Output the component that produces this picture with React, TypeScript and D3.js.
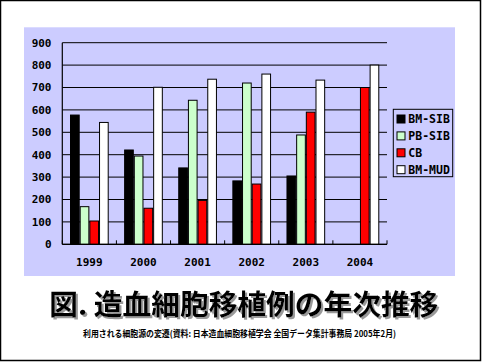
import React from "react";
import * as d3 from "d3";

const years = ["1999", "2000", "2001", "2002", "2003", "2004"];
const seriesNames = ["BM-SIB", "PB-SIB", "CB", "BM-MUD"];
const bmSib = [577, 421, 341, 283, 305, 0];
const pbSib = [168, 394, 643, 720, 488, 0];
const cb = [104, 161, 196, 269, 590, 700];
const bmMud = [544, 701, 737, 760, 733, 800];
const seriesColors = ["#000000", "#CCFFCC", "#FF0000", "#FFFFFF"];
const yTicks = [0, 100, 200, 300, 400, 500, 600, 700, 800, 900];
const titleText = "図. 造血細胞移植例の年次推移";
const subtitleText = "利用される細胞源の変遷(資料: 日本造血細胞移植学会 全国データ集計事務局 2005年2月)";

const W = 482;
const H = 362;
const plot = { left: 62.3, right: 387, top: 42.7, bottom: 244.3 };

export default function App() {
  const allSeries = [bmSib, pbSib, cb, bmMud];
  const x0 = d3
    .scaleBand<string>()
    .domain(years)
    .range([plot.left, plot.right])
    .paddingInner(0.285)
    .paddingOuter(0.1425);
  const x1 = d3
    .scaleBand<string>()
    .domain(seriesNames)
    .range([0, x0.bandwidth()])
    .padding(0);
  const y = d3.scaleLinear().domain([0, 900]).range([plot.bottom, plot.top]);
  const step = x0.step();
  const boundaries = d3.range(years.length + 1).map((i) => plot.left + i * step);
  const axisFont = "'DejaVu Sans Mono', 'Liberation Mono', monospace";

  return (
    <svg
      width={W}
      height={H}
      style={{ position: "absolute", left: 0, top: 0, background: "#fff" }}
    >
      <defs>
        <filter id="titleShadow" x="-5%" y="-20%" width="110%" height="150%">
          <feFlood floodColor="#999999" result="c" />
          <feComposite in="c" in2="SourceAlpha" operator="in" result="s" />
          <feOffset in="s" dx={1.7} dy={2} result="o" />
          <feMerge>
            <feMergeNode in="o" />
            <feMergeNode in="SourceGraphic" />
          </feMerge>
        </filter>
      </defs>
      <rect x={0.5} y={0.5} width={W - 2} height={H - 2} fill="#fff" stroke="#000" strokeWidth={1.5} />
      <rect x={24} y={27.3} width={431} height={248.7} fill="#CCCCFF" />
      {yTicks.map((t) => (
        <line key={"g" + t} x1={plot.left} x2={plot.right} y1={y(t)} y2={y(t)} stroke="#000" strokeWidth={1} />
      ))}
      {years.map((yr, i) => (
        <g key={yr} transform={`translate(${x0(yr)},0)`}>
          {seriesNames.map((s, j) => {
            const v = allSeries[j][i];
            if (!v) return null;
            return (
              <rect
                key={s}
                x={x1(s)! + 0.5}
                y={y(v)}
                width={x1.bandwidth() - 1}
                height={y(0) - y(v)}
                fill={seriesColors[j]}
                stroke="#000"
                strokeWidth={1}
              />
            );
          })}
        </g>
      ))}
      <line x1={plot.left} x2={plot.left} y1={plot.top} y2={plot.bottom} stroke="#000" strokeWidth={1.2} />
      <line x1={plot.left} x2={plot.right} y1={plot.bottom} y2={plot.bottom} stroke="#000" strokeWidth={1.2} />
      {boundaries.map((bx, i) => (
        <line key={"t" + i} x1={bx} x2={bx} y1={plot.bottom} y2={plot.bottom - 4} stroke="#000" strokeWidth={1} />
      ))}
      {yTicks.map((t) => (
        <text
          key={"yl" + t}
          x={51.5}
          y={y(t)}
          dy="0.36em"
          textAnchor="end"
          fontFamily={axisFont}
          fontWeight="bold"
          fontSize={11}
          fill="#000"
        >
          {t}
        </text>
      ))}
      {years.map((yr) => (
        <text
          key={"xl" + yr}
          x={x0(yr)! + x0.bandwidth() / 2}
          y={262.5}
          dy="0.36em"
          textAnchor="middle"
          fontFamily={axisFont}
          fontWeight="bold"
          fontSize={11}
          fill="#000"
        >
          {yr}
        </text>
      ))}
      <rect x={393.3} y={109.3} width={59.4} height={67.4} fill="#CCCCFF" stroke="#000" strokeWidth={1} />
      {seriesNames.map((s, j) => {
        const cy = 119 + j * 16.9;
        return (
          <g key={"lg" + s}>
            <rect x={397} y={cy - 4} width={8} height={8} fill={seriesColors[j]} stroke="#000" strokeWidth={1} />
            <text
              x={408.3}
              y={cy}
              dy="0.36em"
              fontFamily={axisFont}
              fontWeight="bold"
              fontSize={11.5}
              fill="#000"
            >
              {s}
            </text>
          </g>
        );
      })}
      <text
        x={49.3}
        y={315}
        fontFamily="'Noto Sans CJK JP', sans-serif"
        fontWeight="bold"
        fontSize={28}
        textLength={389}
        lengthAdjust="spacingAndGlyphs"
        fill="#000"
        filter="url(#titleShadow)"
      >
        {titleText}
      </text>
      <text
        x={83}
        y={336.5}
        fontFamily="'Noto Sans CJK JP', sans-serif"
        fontWeight="bold"
        fontSize={9}
        textLength={313}
        lengthAdjust="spacingAndGlyphs"
        fill="#000"
      >
        {subtitleText}
      </text>
    </svg>
  );
}
